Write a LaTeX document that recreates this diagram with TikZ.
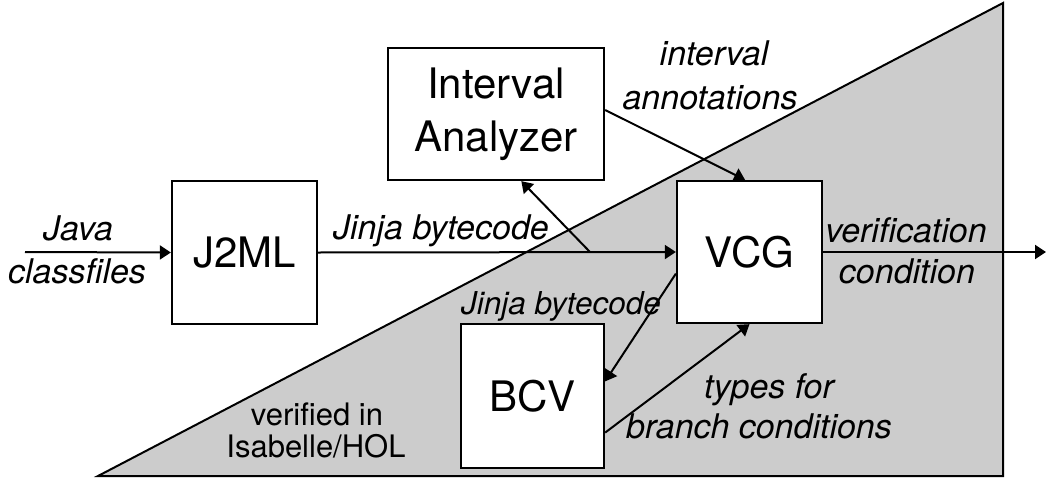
\documentclass[tikz,border=0pt]{standalone}
\usepackage{fontspec}
\setmainfont{TeX Gyre Heros}
\usetikzlibrary{arrows.meta,calc}
\definecolor{trigray}{RGB}{204,204,204}
\tikzset{
  box/.style={draw=black,line width=2.3pt,fill=white,rectangle,inner sep=0pt,align=center,
    font=\fontsize{42}{53}\selectfont},
  arr/.style={line width=2pt,-{Triangle[length=11pt,width=14pt]}},
  lab/.style={anchor=base,inner sep=0pt,font=\fontsize{34}{40}\selectfont\itshape},
  smalllab/.style={anchor=base,inner sep=0pt,font=\fontsize{31.5}{38}\selectfont\itshape},
  note/.style={anchor=base,inner sep=0pt,font=\fontsize{31}{38}\selectfont},
}
\begin{document}
\begin{tikzpicture}[x=1pt,y=-1pt]
\useasboundingbox (0,0) rectangle (1049,479);
% verified region
\filldraw[fill=trigray,draw=black,line width=2pt,line join=miter] (98,476) -- (1003,3) -- (1003,476) -- cycle;
% boxes
\node[box,minimum width=145pt,minimum height=143pt] (j2ml) at (244.5,252.5) {J2ML};
\node[box,minimum width=145pt,minimum height=142pt] (vcg) at (749.5,252) {VCG};
\node[box,minimum width=216pt,minimum height=132pt] (ia) at (496,114) {Interval\\Analyzer};
\node[box,minimum width=143pt,minimum height=144pt] (bcv) at (532.5,396) {BCV};
% coordinates
\coordinate (in) at (25,252);
\coordinate (out) at (1046,252);
\coordinate (br) at (590,252);
% connectors
\draw[arr] (in) -- (j2ml.west);
\draw[arr] (j2ml.east) -- (vcg.west);
\draw[arr] (br) -- ($(ia.south west)!0.616!(ia.south east)$);
\draw[arr] ($(ia.north east)!0.47!(ia.south east)$) -- ($(vcg.north west)!0.47!(vcg.north east)$);
\draw[arr] ($(vcg.north west)!0.65!(vcg.south west)$) -- ($(bcv.north east)!0.4!(bcv.south east)$);
\draw[arr] ($(bcv.north east)!0.75!(bcv.south east)$) -- ($(vcg.south west)!0.5!(vcg.south east)$);
\draw[arr] (vcg.east) -- (out);
% labels
\node[lab] (l1) at (78,240) {Java};
\node[lab] (l2) at (77,283) {classfiles};
\node[lab] (l3) at (441,239) {Jinja bytecode};
\node[lab] (l4) at (714,65) {interval};
\node[lab] (l5) at (710,109) {annotations};
\node[lab] (l6) at (906,242) {verification};
\node[lab] (l7) at (907,283) {condition};
\node[smalllab] (l8) at (561,314) {Jinja bytecode};
\node[lab] (l9) at (769,398) {types for};
\node[lab] (l10) at (759,438) {branch conditions};
\node[note] (n1) at (317,425) {verified in};
\node[note] (n2) at (316,457) {Isabelle/HOL};
\end{tikzpicture}
\end{document}
